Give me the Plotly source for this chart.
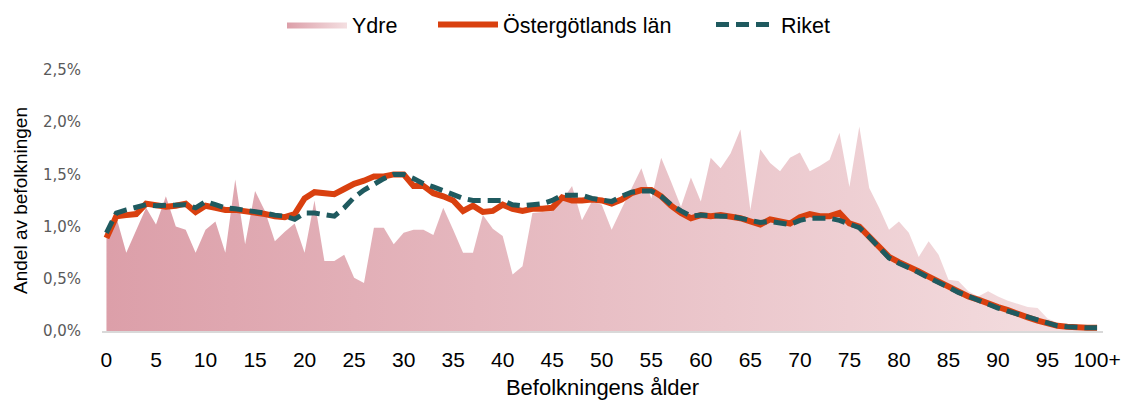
import plotly.graph_objects as go

ages = list(range(101))
tick_vals = list(range(0, 101, 5))
tick_text = [str(v) for v in range(0, 100, 5)] + ["100+"]
y_tick_vals = [0, 0.5, 1.0, 1.5, 2.0, 2.5]
y_tick_text = ["0,0%", "0,5%", "1,0%", "1,5%", "2,0%", "2,5%"]

ydre = [0.90, 1.09, 0.75, 0.97, 1.18, 1.02, 1.29, 1.00, 0.97, 0.75,
        0.97, 1.05, 0.75, 1.45, 0.83, 1.34, 1.15, 0.86, 0.95, 1.03,
        0.75, 1.25, 0.67, 0.67, 0.73, 0.51, 0.46, 0.99, 0.99, 0.83,
        0.94, 0.97, 0.97, 0.92, 1.18, 0.97, 0.75, 0.75, 1.11, 0.98,
        0.91, 0.54, 0.62, 1.13, 1.14, 1.15, 1.25, 1.39, 1.06, 1.24,
        1.21, 0.97, 1.17, 1.36, 1.56, 1.27, 1.66, 1.43, 1.19, 1.47,
        1.24, 1.66, 1.56, 1.70, 1.93, 1.16, 1.74, 1.61, 1.53, 1.66,
        1.71, 1.53, 1.58, 1.64, 1.90, 1.38, 1.96, 1.37, 1.18, 0.97,
        1.05, 0.94, 0.71, 0.86, 0.73, 0.49, 0.48, 0.38, 0.33, 0.38,
        0.33, 0.29, 0.26, 0.23, 0.22, 0.12, 0.08, 0.06, 0.05, 0.04,
        0.06]

ostergotland = [0.89, 1.10, 1.11, 1.12, 1.22, 1.20, 1.19, 1.20, 1.22, 1.14,
                1.20, 1.18, 1.16, 1.16, 1.15, 1.14, 1.12, 1.10, 1.09, 1.12,
                1.27, 1.33, 1.32, 1.31, 1.36, 1.41, 1.44, 1.48, 1.48, 1.50,
                1.50, 1.39, 1.39, 1.32, 1.29, 1.25, 1.15, 1.20, 1.14, 1.15,
                1.21, 1.17, 1.15, 1.17, 1.17, 1.18, 1.28, 1.25, 1.25, 1.26,
                1.25, 1.22, 1.26, 1.32, 1.35, 1.35, 1.29, 1.20, 1.13, 1.08,
                1.11, 1.10, 1.11, 1.10, 1.08, 1.05, 1.02, 1.07, 1.05, 1.03,
                1.09, 1.12, 1.10, 1.10, 1.13, 1.03, 1.00, 0.90, 0.81, 0.71,
                0.66, 0.62, 0.57, 0.52, 0.47, 0.42, 0.37, 0.33, 0.30, 0.26,
                0.23, 0.20, 0.16, 0.13, 0.10, 0.07, 0.05, 0.04, 0.03, 0.03,
                0.03]

riket = [0.94, 1.13, 1.16, 1.18, 1.21, 1.20, 1.20, 1.21, 1.21, 1.18,
         1.24, 1.21, 1.18, 1.17, 1.16, 1.15, 1.13, 1.11, 1.10, 1.07,
         1.13, 1.13, 1.11, 1.10, 1.18, 1.28, 1.35, 1.41, 1.46, 1.50,
         1.50, 1.46, 1.41, 1.38, 1.34, 1.31, 1.27, 1.25, 1.25, 1.26,
         1.25, 1.21, 1.20, 1.21, 1.22, 1.25, 1.30, 1.30, 1.30, 1.27,
         1.26, 1.24, 1.29, 1.33, 1.34, 1.34, 1.29, 1.21, 1.15, 1.10,
         1.11, 1.10, 1.10, 1.10, 1.08, 1.06, 1.04, 1.05, 1.03, 1.02,
         1.06, 1.08, 1.08, 1.08, 1.06, 1.02, 0.99, 0.90, 0.80, 0.70,
         0.65, 0.61, 0.56, 0.51, 0.47, 0.42, 0.37, 0.33, 0.29, 0.26,
         0.22, 0.19, 0.16, 0.13, 0.10, 0.07, 0.05, 0.04, 0.03, 0.03,
         0.03]

FONT = "Liberation Sans, Arial, sans-serif"
W, H = 1121, 400

fig = go.Figure()
fig.add_trace(go.Scatter(
    x=ages, y=ydre, name="Ydre", mode="lines",
    line=dict(width=0, color="rgba(0,0,0,0)"),
    fill="tozeroy",
    fillgradient=dict(type="horizontal",
                      colorscale=[[0, "#DC9FA9"], [1, "#F4DFE1"]]),
    hoverinfo="skip", legend="legend",
))
fig.add_trace(go.Scatter(
    x=ages, y=ostergotland, name="Östergötlands län", mode="lines",
    line=dict(width=6, color="#D9400F"),
    hoverinfo="skip", legend="legend2",
))
fig.add_trace(go.Scatter(
    x=ages, y=riket, name="Riket", mode="lines",
    line=dict(width=5, color="#1F5A5F", dash="13px,7px"),
    hoverinfo="skip", legend="legend3",
))

def leg(px_left):
    return dict(orientation="h", x=px_left / W, xanchor="left", xref="container",
                y=0.99, yanchor="top", yref="container",
                font=dict(size=21.5, color="#000000"), itemwidth=60,
                bgcolor="rgba(0,0,0,0)")

fig.update_layout(
    width=W, height=H,
    margin=dict(l=102, r=18, t=70, b=69, autoexpand=False),
    paper_bgcolor="white", plot_bgcolor="white",
    font=dict(family=FONT, size=21, color="#000000"),
    showlegend=True,
    legend=leg(282),
    legend2=leg(433),
    legend3=leg(711),
    xaxis=dict(
        automargin=False,
        range=[-0.45, 100.6], showgrid=False, zeroline=False,
        showline=True, linecolor="#D9D9D9", linewidth=2,
        tickmode="array", tickvals=tick_vals, ticktext=tick_text,
        ticks="", ticklabelstandoff=9, ticklabeloverflow="allow",
        tickfont=dict(size=21, color="#000000"),
        title=dict(text="Befolkningens ålder", standoff=9,
                   font=dict(size=22, color="#000000")),
    ),
    yaxis=dict(
        automargin=False,
        range=[0, 2.5], showgrid=False, zeroline=False, showline=False,
        tickmode="array", tickvals=y_tick_vals, ticktext=y_tick_text,
        ticks="", ticklabelstandoff=20,
        tickfont=dict(family="DejaVu Sans, sans-serif", size=15, color="#595959"),
        title=dict(text="Andel av befolkningen", standoff=10,
                   font=dict(size=19, color="#000000")),
    ),
)

fig.write_html("out.html", config={"displayModeBar": False},
               post_script="document.body.style.margin='0';")
